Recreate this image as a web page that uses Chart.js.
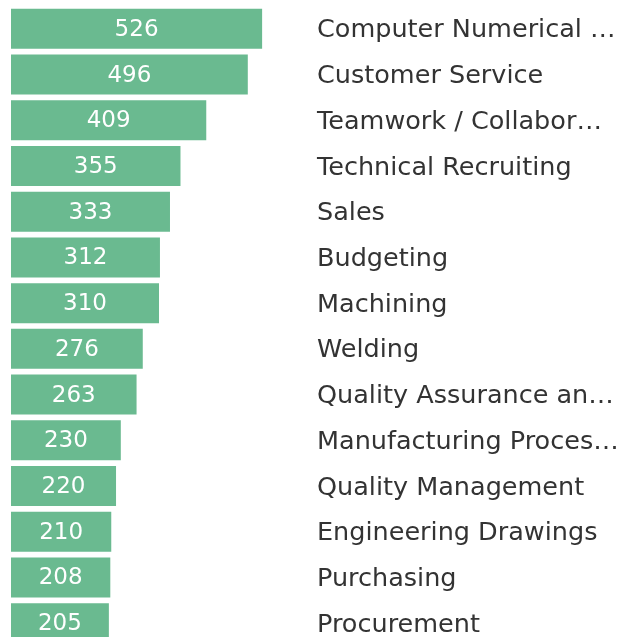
<!DOCTYPE html>
<html>
<head>
<meta charset="utf-8">
<script src="https://cdn.jsdelivr.net/npm/chart.js@4"></script>
<style>
  html, body { margin: 0; padding: 0; background: #fff; overflow: hidden; }
  #boite { position: relative; width: 620px; height: 646px; }
</style>
</head>
<body>
<div id="boite"><canvas id="graphique"></canvas></div>
<script>
"use strict";

const competences = [
  "Computer Numerical …",
  "Customer Service",
  "Teamwork / Collabor…",
  "Technical Recruiting",
  "Sales",
  "Budgeting",
  "Machining",
  "Welding",
  "Quality Assurance an…",
  "Manufacturing Proces…",
  "Quality Management",
  "Engineering Drawings",
  "Purchasing",
  "Procurement"
];
const nombres = [526, 496, 409, 355, 333, 312, 310, 276, 263, 230, 220, 210, 208, 205];

const couleurBarre = "#6aba90";
const police = "'DejaVu Sans', Verdana, sans-serif";

// affiche la valeur au centre de chaque barre
const etiquettesValeurs = {
  id: "etiquettesValeurs",
  afterDatasetsDraw(chart) {
    const ctx = chart.ctx;
    const meta = chart.getDatasetMeta(0);
    ctx.save();
    ctx.fillStyle = "#ffffff";
    ctx.font = "23px " + police;
    ctx.textAlign = "center";
    ctx.textBaseline = "middle";
    meta.data.forEach((barre, i) => {
      ctx.fillText(String(nombres[i]), (barre.x + barre.base) / 2, barre.y + 1);
    });
    ctx.restore();
  }
};

const ctx = document.getElementById("graphique");
let myChart = new Chart(ctx, {
  type: "bar",
  data: {
    labels: competences,
    datasets: [{
      data: nombres,
      backgroundColor: couleurBarre,
      borderWidth: 0,
      barPercentage: 0.875,
      categoryPercentage: 1
    }]
  },
  options: {
    indexAxis: "y",
    responsive: true,
    maintainAspectRatio: false,
    animation: false,
    layout: { padding: { top: 6, left: 11, right: 0, bottom: 0 } },
    plugins: {
      legend: { display: false },
      tooltip: { enabled: false }
    },
    scales: {
      x: {
        display: false,
        min: 0,
        max: 620
      },
      y: {
        position: "right",
        grid: { display: false, drawTicks: false },
        border: { display: false },
        afterFit(scale) {
          scale.width = 313;
          scale.paddingTop = 0;
          scale.paddingBottom = 0;
        },
        ticks: {
          padding: 10,
          labelOffset: 2,
          color: "#333333",
          font: { family: police, size: 25.5 },
          autoSkip: false
        }
      }
    }
  },
  plugins: [etiquettesValeurs]
});
</script>
</body>
</html>
